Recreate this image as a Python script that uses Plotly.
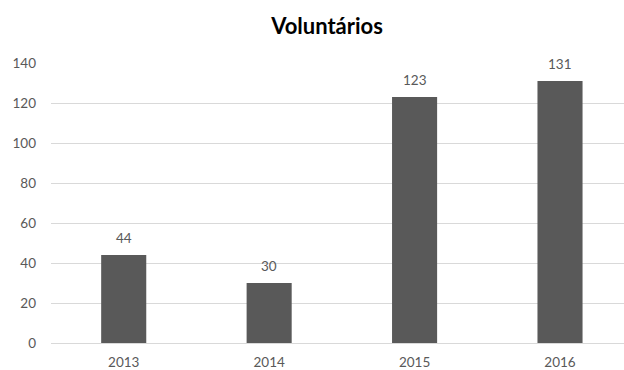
import plotly.graph_objects as go

# Volunteers per year
years = ["2013", "2014", "2015", "2016"]
volunteers = [44, 30, 123, 131]
y_ticks = [0, 20, 40, 60, 80, 100, 120, 140]

bar_color = "#595959"
text_color = "#595959"
grid_color = "#d9d9d9"
font_family = "Lato, 'Open Sans', sans-serif"

fig = go.Figure()
fig.add_trace(go.Bar(
    x=years,
    y=volunteers,
    marker=dict(color=bar_color, line=dict(width=0)),
    width=0.31,
    hoverinfo="skip",
))

# Value labels above each bar
for i, v in enumerate(volunteers):
    fig.add_annotation(
        x=i, y=v, xref="x", yref="y",
        text=str(v), showarrow=False,
        yshift=17,
        font=dict(family=font_family, size=13.5, color=text_color),
    )

fig.update_layout(
    width=624, height=370,
    margin=dict(l=51, r=0, t=63, b=27, autoexpand=False),
    paper_bgcolor="white", plot_bgcolor="white",
    showlegend=False,
    title=dict(
        text="<b>Voluntários</b>",
        x=327 / 624, xanchor="center",
        y=1 - 26 / 370, yanchor="middle",
        font=dict(family=font_family, size=22, color="#000000"),
    ),
    font=dict(family=font_family, size=13.5, color=text_color),
)
fig.update_xaxes(
    type="category",
    range=[-0.5, 3.44],
    automargin=False,
    showgrid=False,
    showline=False,
    ticks="",
    ticklabelstandoff=9,
    tickfont=dict(family=font_family, size=13.5, color=text_color),
)
fig.update_yaxes(
    range=[0, 140],
    tickvals=y_ticks,
    automargin=False,
    showgrid=True, gridcolor=grid_color, gridwidth=1,
    zeroline=True, zerolinecolor=grid_color, zerolinewidth=1,
    showline=False,
    ticks="",
    ticklabelstandoff=14,
    tickfont=dict(family=font_family, size=13.5, color=text_color),
)

fig.write_html("out.html")
